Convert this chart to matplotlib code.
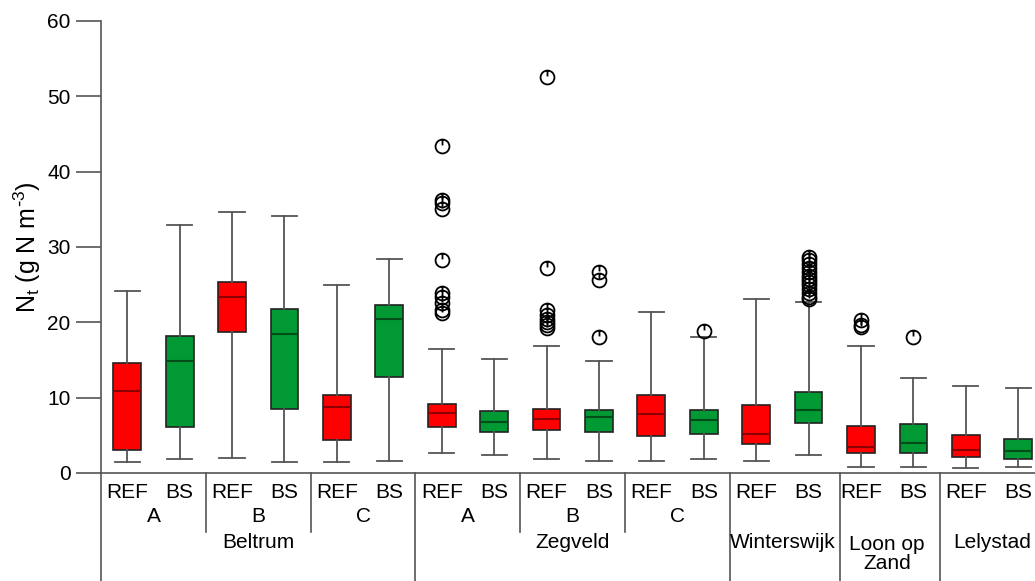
import matplotlib.pyplot as plt
import matplotlib.transforms as mtransforms
from matplotlib.path import Path
import numpy as np

plt.rcParams['font.family'] = ['Liberation Sans', 'DejaVu Sans']
plt.rcParams['mathtext.default'] = 'regular'

# one entry per box, left to right: REF/BS pairs per plot and site
treat = ['REF', 'BS'] * 9
plots = ['A', 'A', 'B', 'B', 'C', 'C', 'A', 'A', 'B', 'B', 'C', 'C',
         '', '', '', '', '', '']
whislo = [1.4, 1.9, 2.0, 1.5, 1.5, 1.6, 2.65, 2.4, 1.8, 1.6, 1.6, 1.8,
          1.6, 2.4, 0.85, 0.8, 0.6, 0.75]
q1 = [3.1, 6.1, 18.7, 8.5, 4.4, 12.7, 6.1, 5.5, 5.7, 5.5, 4.95, 5.2,
      3.9, 6.7, 2.6, 2.7, 2.1, 1.9]
med = [10.9, 14.8, 23.3, 18.4, 8.7, 20.4, 7.9, 6.8, 7.2, 7.4, 7.8, 7.1,
       5.2, 8.4, 3.45, 4.0, 3.05, 2.95]
q3 = [14.6, 18.2, 25.4, 21.8, 10.4, 22.3, 9.1, 8.2, 8.5, 8.4, 10.35, 8.4,
      9.0, 10.75, 6.3, 6.55, 5.1, 4.55]
whishi = [24.2, 32.9, 34.6, 34.1, 25.0, 28.4, 16.5, 15.1, 16.8, 14.9, 21.4, 18.05,
          23.1, 22.7, 16.9, 12.65, 11.55, 11.3]
fliers = [[], [], [], [], [], [],
          [43.4, 36.3, 35.8, 35.1, 28.3, 23.9, 23.3, 22.5, 21.7, 21.3],
          [],
          [52.5, 27.2, 21.6, 21.0, 20.4, 20.0, 19.6, 19.2],
          [26.7, 25.6, 18.1],
          [],
          [18.85],
          [],
          [28.7, 28.3, 27.8, 27.2, 26.7, 26.2, 25.8, 25.3, 24.9, 24.4, 23.9, 23.4, 23.1],
          [20.3, 19.7, 19.4],
          [18.1],
          [], []]

# site groups: (name, first box, last box)
sites = [('Beltrum', 0, 5), ('Zegveld', 6, 11), ('Winterswijk', 12, 13),
         ('Loon op\nZand', 14, 15), ('Lelystad', 16, 17)]
site_bounds = [-0.5, 5.5, 11.5, 13.6, 15.5]
plot_bounds = [1.5, 3.5, 7.5, 9.5]

red = '#ff0000'
green = '#009933'
fs = 15

fig = plt.figure(figsize=(10.35, 5.81), dpi=100)
ax = fig.add_axes([0.0976, 0.1859, 0.9024, 0.7780])

stats = []
for i in range(len(treat)):
    stats.append(dict(whislo=whislo[i], q1=q1[i], med=med[i], q3=q3[i],
                      whishi=whishi[i], fliers=fliers[i]))

# open circle with a short tick at the top
flier_marker = Path.make_compound_path(
    Path.unit_circle(),
    Path([[0, 1.0], [0, 0.15]], [Path.MOVETO, Path.LINETO]))

pos = np.arange(len(treat))
bp = ax.bxp(stats, positions=pos, widths=0.53, patch_artist=True,
            boxprops=dict(edgecolor='#222222', linewidth=1.2),
            whiskerprops=dict(color='#555555', linewidth=1.3),
            capprops=dict(color='#555555', linewidth=1.3),
            medianprops=dict(linewidth=1.5),
            flierprops=dict(marker=flier_marker, markersize=10,
                            markerfacecolor='none', markeredgecolor='black',
                            markeredgewidth=1.3))
for i, box in enumerate(bp['boxes']):
    if treat[i] == 'REF':
        box.set_facecolor(red)
        bp['medians'][i].set_color('#8a0000')
    else:
        box.set_facecolor(green)
        bp['medians'][i].set_color('#004d1a')
for cap in bp['caps']:
    c = np.mean(cap.get_xdata())
    cap.set_xdata([c - 0.24, c + 0.24])

ax.set_xlim(-0.5, 17.32)
ax.set_ylim(0, 60)
ax.set_yticks([0, 10, 20, 30, 40, 50, 60])
ax.tick_params(axis='y', length=18, width=1.2, color='#555555',
               labelsize=fs, pad=4)
ax.set_xticks([])
for s in ['top', 'right']:
    ax.spines[s].set_visible(False)
for s in ['left', 'bottom']:
    ax.spines[s].set_color('#555555')
    ax.spines[s].set_linewidth(1.2)
ax.set_ylabel(r'N$_t$ (g N m$^{\text{-}3}$)', fontsize=18, labelpad=3)

# category rows under the axis
tr = mtransforms.blended_transform_factory(ax.transData, fig.transFigure)
def fy(px):
    return 1 - px / 581.0

for i, t in enumerate(treat):
    ax.text(pos[i], fy(492), t, transform=tr, ha='center', va='center',
            fontsize=fs)
for k in range(0, 12, 2):
    ax.text(pos[k] + 0.5, fy(517), plots[k], transform=tr, ha='center',
            va='center', fontsize=fs)
for name, a, b in sites:
    y = fy(543) if '\n' not in name else fy(554)
    ax.text((pos[a] + pos[b]) / 2, y, name, transform=tr, ha='center',
            va='center', fontsize=fs, linespacing=0.95)

for xb in site_bounds:
    ax.plot([xb, xb], [fy(473), 0], transform=tr, color='#555555',
            linewidth=1.2, clip_on=False)
for xb in plot_bounds:
    ax.plot([xb, xb], [fy(473), fy(532)], transform=tr, color='#555555',
            linewidth=1.2, clip_on=False)

fig.savefig('out.png', dpi=100)
